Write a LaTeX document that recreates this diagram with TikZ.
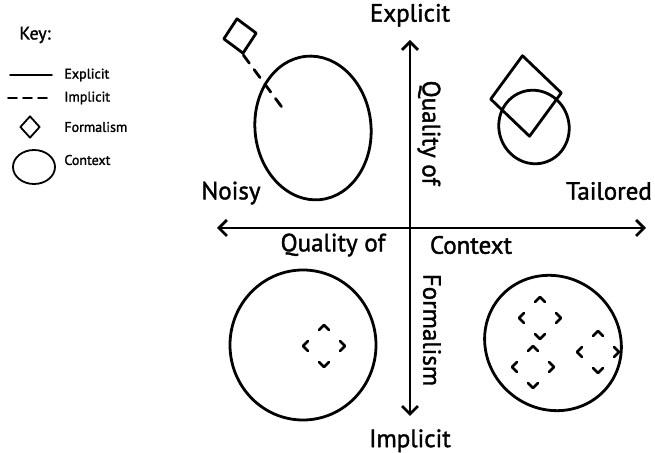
\documentclass[tikz,border=0pt]{standalone}
\usepackage{fontspec}
\setmainfont{PT Sans}
\newfontfamily\handfont{PT Sans}[FakeBold=1.5]
\usetikzlibrary{shapes.geometric, arrows.meta, positioning}

\begin{document}
\begin{tikzpicture}[
    x=0.5pt, y=-0.5pt,
    line width=1.4pt, line cap=round, line join=round,
    axislabel/.style={font=\handfont\fontsize{12.5}{14}\selectfont, inner sep=1pt},
    keylabel/.style={font=\handfont\fontsize{7}{8}\selectfont, anchor=west, inner sep=0pt},
    ctx/.style={ellipse, draw, inner sep=0pt},
    frm/.style={diamond, draw, inner sep=0pt},
    dfrm/.style={diamond, inner sep=0pt, outer sep=0pt, minimum width=21pt, minimum height=21pt},
    dashfrm/.style={dash pattern=on 7pt off 7.85pt, dash phase=3.5pt},
    axis/.style={{Straight Barb[length=4pt, width=8pt]}-{Straight Barb[length=4pt, width=8pt]}}
]
\useasboundingbox (0,0) rectangle (655,453);

% key
\node[font=\handfont\fontsize{9}{10}\selectfont, inner sep=0pt] (key) at (35,35) {Key:};
\coordinate (solidA) at (10,75);
\coordinate (solidB) at (52,75);
\coordinate (dashA)  at (8,98);
\coordinate (dashB)  at (52,98);
\node[frm, minimum width=10pt, minimum height=11pt, line width=0.9pt] (kfrm) at (30,127) {};
\node[ctx, minimum width=21pt, minimum height=17pt, line width=0.9pt] (kctx) at (34,167) {};
\node[keylabel] (kexp) at (63,75)  {Explicit};
\node[keylabel] (kimp) at (63,98)  {Implicit};
\node[keylabel] (kfor) at (63,127) {Formalism};
\node[keylabel] (kcon) at (63,160) {Context};
\draw[line width=0.9pt] (solidA) -- (solidB);
\draw[line width=0.9pt, dash pattern=on 4.5pt off 3pt] (dashA) -- (dashB);

% axes
\coordinate (top)    at (410,40);
\coordinate (bottom) at (410,416);
\coordinate (left)   at (217,228);
\coordinate (right)  at (646,228);
\draw[axis] (top) -- (bottom);
\draw[axis] (left) -- (right);

\node[axislabel, above=5pt of top]     (explicit) {Explicit};
\node[axislabel, below=5pt of bottom]  (implicit) {Implicit};
\node[axislabel] (noisy)    at (231,193) {Noisy};
\node[axislabel] (tailored) at (609,191) {Tailored};
\node[axislabel, rotate=-90] (qualv)   at (429,133) {Quality of};
\node[axislabel, rotate=-90] (formal)  at (432,330) {Formalism};
\node[axislabel] (qualh)   at (333,245) {Quality of};
\node[axislabel] (context) at (471,245) {Context};

% noisy / explicit
\node[ctx, minimum width=58pt, minimum height=72pt, rotate=6] (ctx1) at (313,128) {};
\node[frm, minimum width=17pt, minimum height=18pt, rotate=10] (frm1) at (240,36) {};
\coordinate (link1) at (284,110);
\draw[dash pattern=on 5pt off 4pt] (frm1.south) -- (link1);

% tailored / explicit
\node[frm, minimum width=36pt, minimum height=41pt, rotate=5] (frm2) at (526,96) {};
\node[ctx, minimum width=35pt, minimum height=37pt, rotate=20] (ctx2) at (534,127) {};

% noisy / implicit
\node[ctx, minimum width=73pt, minimum height=75pt] (ctx3) at (303,345) {};
\node[dfrm] (frm3) at (324,346) {};

% tailored / implicit
\node[ctx, minimum width=70pt, minimum height=66pt, rotate=-40] (ctx4) at (553,343) {};
\node[dfrm] (frm4a) at (540,318) {};
\node[dfrm] (frm4b) at (598,352) {};
\node[dfrm] (frm4c) at (533,367) {};

% implicit formalisms, dashed round their corners
\foreach \f in {frm3, frm4a, frm4b, frm4c}
  \draw[dashfrm] (\f.north) -- (\f.east) -- (\f.south) -- (\f.west) -- cycle;
\end{tikzpicture}
\end{document}
